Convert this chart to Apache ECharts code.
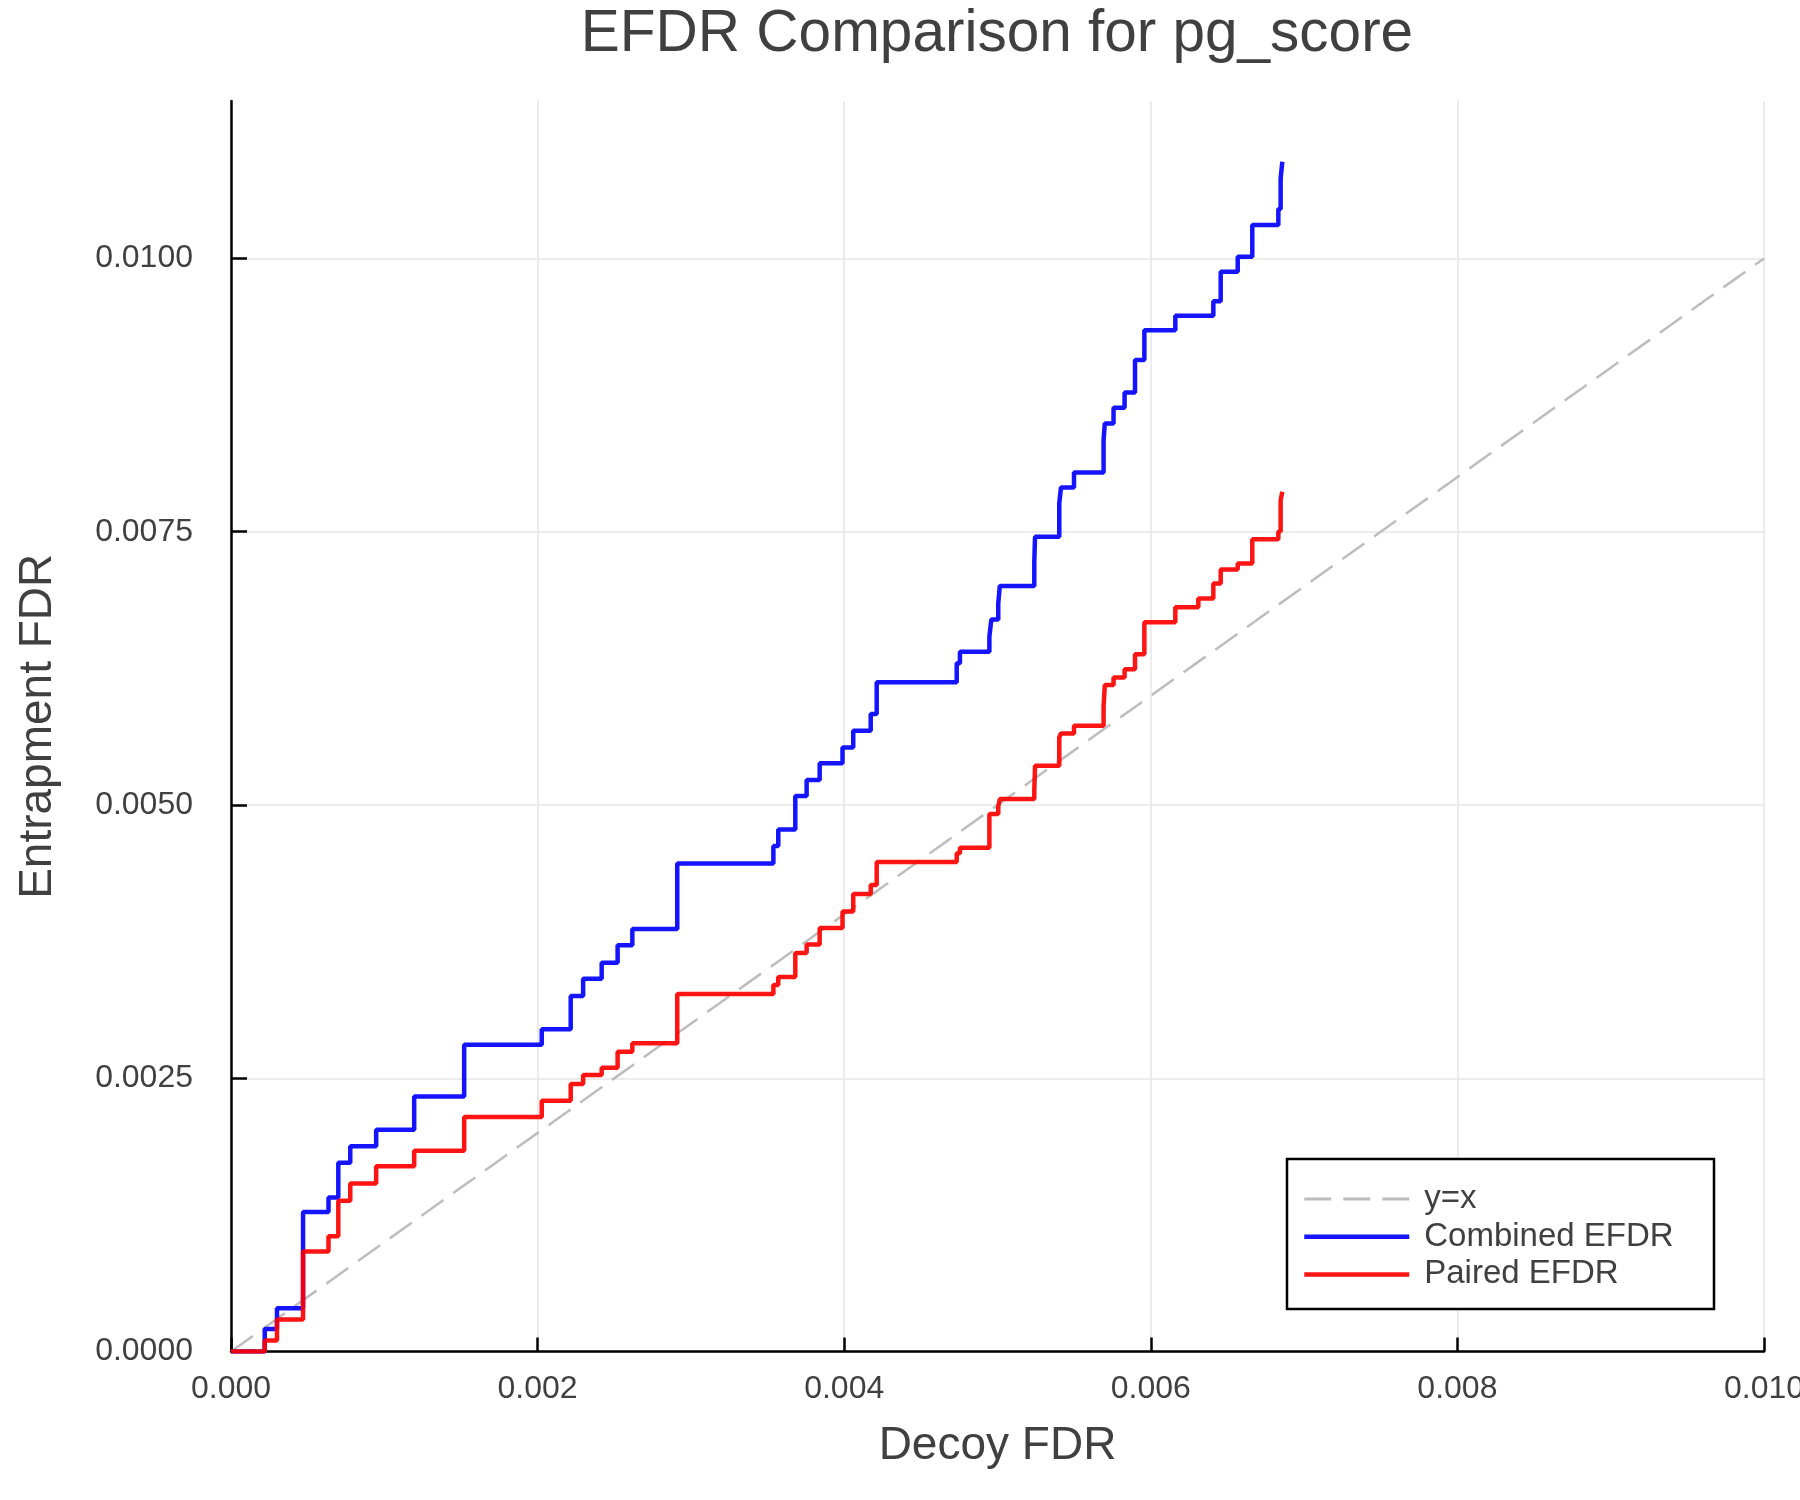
<!DOCTYPE html>
<html><head><meta charset="utf-8">
<script src="https://cdn.jsdelivr.net/npm/echarts@6/dist/echarts.min.js"></script>
<style>html,body{margin:0;padding:0;background:#fff}#c{width:1800px;height:1500px}</style>
</head><body><div id="c"></div>
<script>
// Decoy FDR breakpoints (x) shared by both EFDR step curves
const decoyFdr = [0, 0.00022, 0.0003, 0.00047, 0.000636, 0.0007, 0.000778, 0.000947, 0.001195, 0.001521,
  0.002027, 0.002216, 0.002297, 0.002418, 0.002522, 0.002618, 0.002911, 0.003538, 0.00357, 0.003681,
  0.003755, 0.00384, 0.003989, 0.004059, 0.004173, 0.004212, 0.004734, 0.004755, 0.004947, 0.00496,
  0.005005, 0.005015, 0.00524, 0.005245, 0.005403, 0.005414, 0.005499, 0.005692, 0.0057, 0.005757,
  0.005829, 0.005897, 0.005958, 0.00616, 0.00631, 0.006408, 0.006456, 0.006567, 0.006662, 0.006832,
  0.006847, 0.006858];
const combinedEfdr = [0, 0.000207, 0.000396, 0.001276, 0.001409, 0.001728, 0.001879, 0.002029, 0.002334, 0.002806,
  0.002948, 0.003254, 0.003411, 0.003557, 0.003716, 0.003865, 0.004466, 0.004624, 0.004777, 0.005082,
  0.005228, 0.005381, 0.005527, 0.005679, 0.005832, 0.006122, 0.006296, 0.006402, 0.006539, 0.006698,
  0.006845, 0.007003, 0.00723, 0.007454, 0.00776, 0.007905, 0.008042, 0.008338, 0.008491, 0.008634,
  0.008774, 0.00907, 0.009344, 0.009475, 0.009475, 0.009609, 0.009878, 0.010015, 0.010305, 0.010451,
  0.010732, 0.010884];
const pairedEfdr = [0, 0.000102, 0.000294, 0.000915, 0.001055, 0.001381, 0.001538, 0.001696, 0.001837, 0.002147,
  0.002295, 0.002448, 0.00253, 0.002597, 0.002743, 0.00282, 0.003271, 0.003353, 0.003427, 0.003646,
  0.003724, 0.003875, 0.004027, 0.004185, 0.004268, 0.004478, 0.004558, 0.004609, 0.004917, 0.004917,
  0.004985, 0.005054, 0.005137, 0.005359, 0.00562, 0.005655, 0.005725, 0.0059, 0.006097, 0.006167,
  0.006241, 0.006378, 0.006671, 0.006809, 0.00689, 0.007027, 0.007155, 0.00721, 0.007432, 0.007503,
  0.007789, 0.007865];
// Reference diagonal y = x
const diagX = [0, 0.01];
const diagY = [0, 0.01];
// Tick values
const xTicks = [0, 0.002, 0.004, 0.006, 0.008, 0.010];
const yTicks = [0, 0.0025, 0.005, 0.0075, 0.01];
const seriesNames = ['y=x', 'Combined EFDR', 'Paired EFDR'];
const titleText = 'EFDR Comparison for pg_score';
const xName = 'Decoy FDR';
const yName = 'Entrapment FDR';

const zip = (xs, ys) => xs.map((x, i) => [x, ys[i]]);
const FONT = 'Liberation Sans';
const TXT = '#404040';
const GRAY = '#bdbdbd', BLUE = '#0000ff', RED = '#ff0000';

const chart = echarts.init(document.getElementById('c'), null, {renderer: 'canvas', width: 1800, height: 1500});
chart.setOption({
  animation: false,
  backgroundColor: '#ffffff',
  textStyle: {fontFamily: FONT},
  title: {
    text: titleText, left: 997, top: 5, padding: 0, textAlign: 'center',
    textStyle: {fontFamily: FONT, fontSize: 58.5, fontWeight: 'normal', color: TXT}
  },
  grid: {left: 231, right: 36, top: 101, bottom: 148.4, containLabel: false, outerBoundsMode: 'none'},
  xAxis: {
    type: 'value', min: 0, max: 0.01, interval: 0.002,
    name: xName, nameLocation: 'middle', nameGap: 72,
    nameTextStyle: {fontFamily: FONT, fontSize: 46, color: TXT},
    axisLine: {show: true, onZero: false, lineStyle: {color: '#000', width: 2.5}},
    axisTick: {show: true, inside: true, length: 14, customValues: xTicks, lineStyle: {color: '#000', width: 2.5}},
    axisLabel: {show: true, margin: 22, customValues: xTicks, fontFamily: FONT, fontSize: 32, color: TXT,
      formatter: v => v.toFixed(3)},
    splitLine: {show: true, lineStyle: {color: '#e6e6e6', width: 1.5}}
  },
  yAxis: {
    type: 'value', min: 0, max: 0.01144, interval: 0.0025,
    name: yName, nameLocation: 'middle', nameGap: 170, nameRotate: 90,
    nameTextStyle: {fontFamily: FONT, fontSize: 46, color: TXT},
    axisLine: {show: true, onZero: false, lineStyle: {color: '#000', width: 2.5}},
    axisTick: {show: true, inside: true, length: 16, customValues: yTicks, lineStyle: {color: '#000', width: 2.5}},
    axisLabel: {show: true, margin: 38, customValues: yTicks, fontFamily: FONT, fontSize: 32, color: TXT,
      formatter: v => v.toFixed(4)},
    splitLine: {show: true, lineStyle: {color: ['#e6e6e6', '#e6e6e6', '#e6e6e6', '#e6e6e6', '#e6e6e6', 'rgba(0,0,0,0)'], width: 1.5}}
  },
  legend: {
    orient: 'vertical', left: 1302, top: 1182.5, padding: 0,
    itemWidth: 105, itemHeight: 14, itemGap: 4.7,
    itemStyle: {opacity: 0},
    data: [
      {name: seriesNames[0], lineStyle: {width: 3, color: GRAY, type: [27, 12]}},
      {name: seriesNames[1], lineStyle: {width: 4.5, color: BLUE}},
      {name: seriesNames[2], lineStyle: {width: 4.5, color: RED}}
    ],
    textStyle: {fontFamily: FONT, fontSize: 33, color: TXT, padding: [0, 0, 0, 10]}
  },
  graphic: [{
    type: 'rect', z: 3, silent: true,
    shape: {x: 1287, y: 1159, width: 427, height: 150},
    style: {fill: '#ffffff', stroke: '#000000', lineWidth: 2.5}
  }],
  series: [
    {name: seriesNames[0], type: 'line', data: zip(diagX, diagY), symbol: 'none', z: 1,
      lineStyle: {color: GRAY, width: 2.5, type: [27, 12]}, itemStyle: {color: GRAY}},
    {name: seriesNames[1], type: 'line', step: 'end', data: zip(decoyFdr, combinedEfdr), symbol: 'none', z: 2,
      lineStyle: {color: BLUE, width: 4.5, opacity: 0.92}, itemStyle: {color: BLUE}},
    {name: seriesNames[2], type: 'line', step: 'end', data: zip(decoyFdr, pairedEfdr), symbol: 'none', z: 2,
      lineStyle: {color: RED, width: 4.5, opacity: 0.92}, itemStyle: {color: RED}}
  ]
});
</script>
</body></html>
